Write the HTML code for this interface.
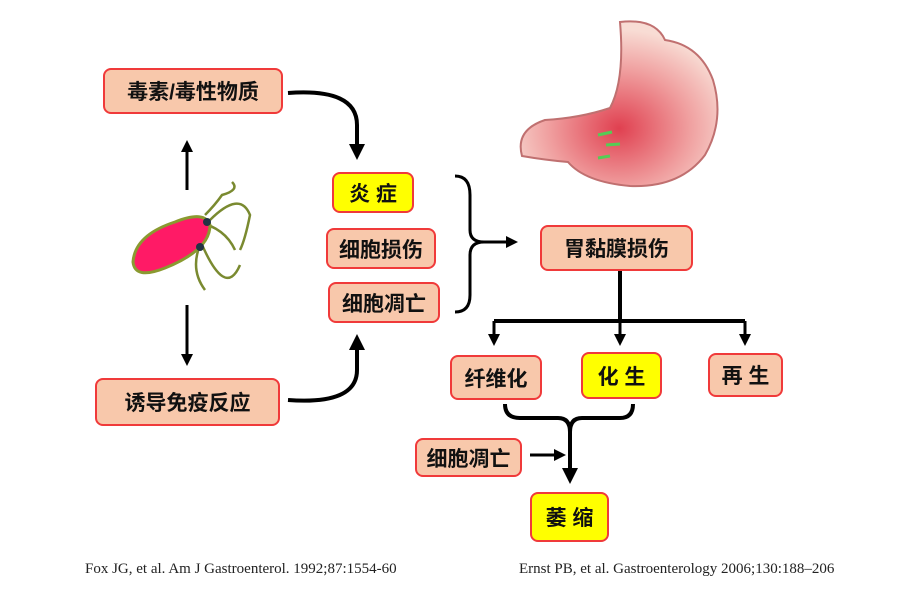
<!DOCTYPE html>
<html><head><meta charset="utf-8"><style>
body{margin:0;background:#fff;width:907px;height:615px;position:relative;overflow:hidden;font-family:"Liberation Sans","Noto Sans CJK SC",sans-serif}
.b{position:absolute;box-sizing:border-box;border:2px solid #f03a3a;border-radius:8px;background:#f8c8ab;display:flex;align-items:center;justify-content:center;font-size:21px;font-weight:bold;color:#111}
.y{background:#ffff00}
.c{position:absolute;font-family:"Liberation Serif",serif;font-size:15px;color:#222}
</style></head><body>
<svg width="907" height="615" style="position:absolute;left:0;top:0">
<defs>
<marker id="a" markerWidth="4" markerHeight="4" refX="2" refY="2" orient="auto" markerUnits="strokeWidth"><path d="M0,0L4,2L0,4z" fill="#000"/></marker>
<radialGradient id="g" cx="0.5" cy="0.65" r="0.6"><stop offset="0" stop-color="#e04050"/><stop offset="0.6" stop-color="#f0a0a0"/><stop offset="1" stop-color="#f8dcd4"/></radialGradient>
</defs>
<g fill="none" stroke="#000" stroke-width="4">
<path d="M288,93 Q357,88 357,125 L357,152" marker-end="url(#a)"/>
<path d="M288,400 Q357,405 357,370 L357,342" marker-end="url(#a)"/>
<path d="M187,190 L187,146" marker-end="url(#a)" stroke-width="3"/>
<path d="M187,305 L187,360" marker-end="url(#a)" stroke-width="3"/>
<path d="M455,176 Q470,176 470,195 L470,230 Q470,242 484,242 Q470,242 470,255 L470,295 Q470,312 455,312" stroke-width="3"/>
<path d="M484,242 L512,242" marker-end="url(#a)" stroke-width="3"/>
<path d="M620,270 L620,321 M494,321 L745,321"/>
<path d="M494,321 L494,340" marker-end="url(#a)" stroke-width="3"/>
<path d="M620,321 L620,340" marker-end="url(#a)" stroke-width="3"/>
<path d="M745,321 L745,340" marker-end="url(#a)" stroke-width="3"/>
<path d="M505,404 Q505,418 520,418 L558,418 Q570,418 570,432 Q570,418 582,418 L620,418 Q633,418 633,404"/>
<path d="M570,430 L570,476" marker-end="url(#a)"/>
<path d="M530,455 L560,455" marker-end="url(#a)" stroke-width="3"/>
</g>
<g fill="none" stroke="#7a8a30" stroke-width="2.5">
<path d="M205,215 Q215,205 222,195 Q240,190 232,182 M210,220 Q240,190 250,215 Q245,240 240,250 M200,245 Q190,270 205,290 M200,240 Q225,300 240,265 M198,222 Q225,228 235,250"/>
</g>
<path d="M133,262 Q135,235 175,222 Q205,210 210,225 Q210,250 165,268 Q135,280 133,262z" fill="#ff1a66" stroke="#8a9a30" stroke-width="3"/>
<circle cx="207" cy="222" r="4" fill="#234"/><circle cx="200" cy="247" r="4" fill="#234"/>
<path d="M620,22 Q655,18 665,40 Q700,45 713,80 Q725,120 705,155 Q680,188 630,186 Q585,182 568,162 Q545,160 522,156 Q515,130 545,120 Q580,118 610,108 Q625,80 620,22z" fill="url(#g)" stroke="#c07070" stroke-width="2"/>
<g stroke="#5c5" stroke-width="3"><path d="M598,135 L612,132 M606,145 L620,144 M598,158 L610,156"/></g>
</svg>
<div class="b" style="left:103px;top:68px;width:180px;height:46px">毒素/毒性物质</div>
<div class="b y" style="left:332px;top:172px;width:82px;height:41px">炎 症</div>
<div class="b" style="left:326px;top:228px;width:110px;height:41px">细胞损伤</div>
<div class="b" style="left:328px;top:282px;width:112px;height:41px">细胞凋亡</div>
<div class="b" style="left:95px;top:378px;width:185px;height:48px">诱导免疫反应</div>
<div class="b" style="left:540px;top:225px;width:153px;height:46px">胃黏膜损伤</div>
<div class="b" style="left:450px;top:355px;width:92px;height:45px">纤维化</div>
<div class="b y" style="left:581px;top:352px;width:81px;height:47px">化 生</div>
<div class="b" style="left:708px;top:353px;width:75px;height:44px">再 生</div>
<div class="b" style="left:415px;top:438px;width:107px;height:39px">细胞凋亡</div>
<div class="b y" style="left:530px;top:492px;width:79px;height:50px">萎 缩</div>
<div class="c" style="left:85px;top:561px">Fox JG, et al. Am J Gastroenterol. 1992;87:1554-60</div>
<div class="c" style="left:519px;top:561px">Ernst PB, et al. Gastroenterology 2006;130:188–206</div>
</body></html>
